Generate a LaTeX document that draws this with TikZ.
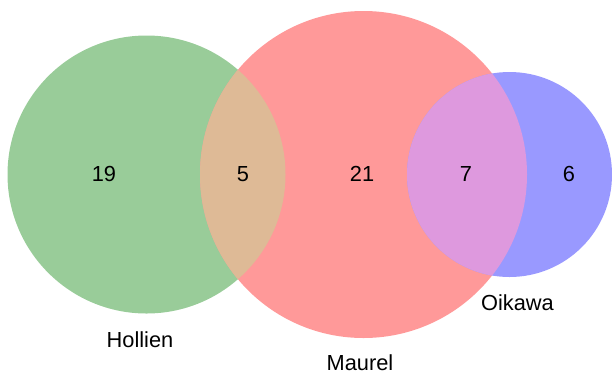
\documentclass[tikz,border=0pt]{standalone}
\usepackage{fontspec}
\setmainfont{Liberation Sans}
\definecolor{cgreen}{HTML}{99CC99}
\definecolor{cred}{HTML}{FF9999}
\definecolor{cblue}{HTML}{9999FF}
\definecolor{ctan}{HTML}{DEBA96}
\definecolor{cpink}{HTML}{DE99DE}
\begin{document}
\begin{tikzpicture}[x=1pt,y=-1pt,
  lbl/.style={anchor=base,inner sep=0pt,font=\fontsize{21.8}{24}\selectfont}]
\useasboundingbox (0,0) rectangle (612,373);
\coordinate (cg) at (146.5,174.5);
\coordinate (cr) at (363.5,174.5);
\coordinate (cb) at (509.5,174.5);
\fill[cgreen] (cg) circle[radius=139];
\fill[cred] (cr) circle[radius=163.5];
\fill[cblue] (cb) circle[radius=102.5];
\begin{scope}
  \clip (cg) circle[radius=139];
  \fill[ctan] (cr) circle[radius=163.5];
\end{scope}
\begin{scope}
  \clip (cb) circle[radius=102.5];
  \fill[cpink] (cr) circle[radius=163.5];
\end{scope}
\node[lbl] (n19) at (104,181) {19};
\node[lbl] (n5) at (243,181) {5};
\node[lbl] (n21) at (362,181) {21};
\node[lbl] (n7) at (466,181) {7};
\node[lbl] (n6) at (569,181) {6};
\node[lbl] (hol) at (140,347) {Hollien};
\node[lbl] (oik) at (517.5,310) {Oikawa};
\node[lbl] (mau) at (360,370) {Maurel};
\end{tikzpicture}
\end{document}
